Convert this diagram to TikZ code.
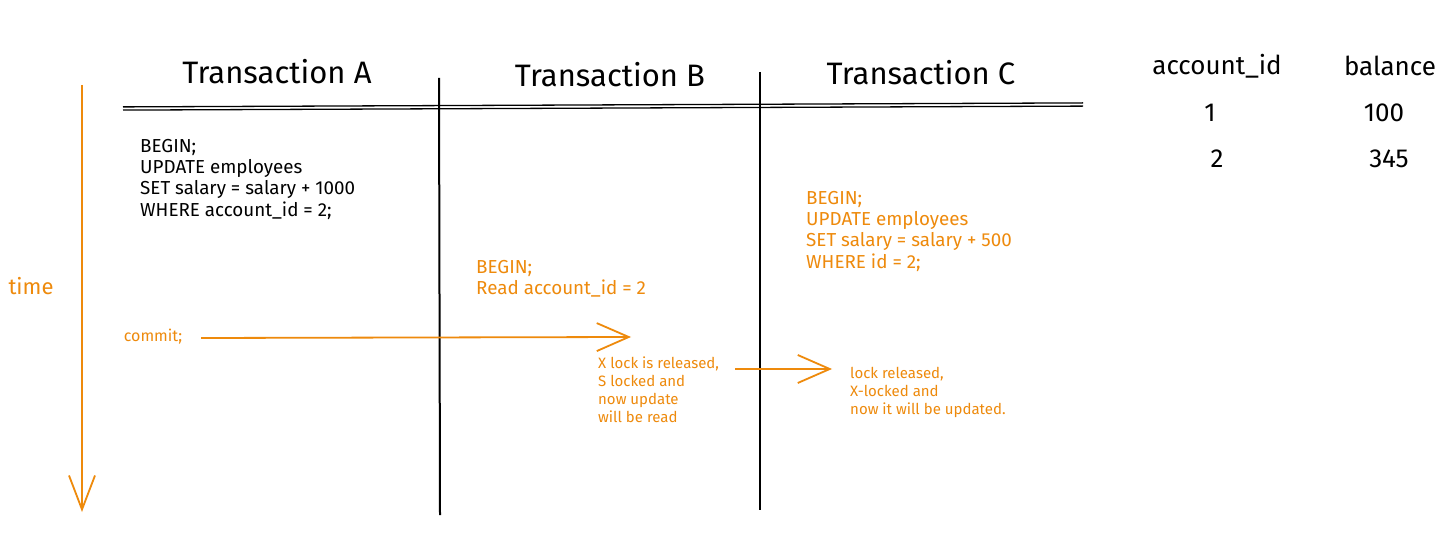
\documentclass[tikz,border=0pt]{standalone}
\usepackage{fontspec}
\setmainfont{Fira Sans}
\usetikzlibrary{arrows.meta}
\definecolor{xorange}{HTML}{EE8A0C}
\tikzset{
  hdr/.style={inner sep=0, font=\fontsize{31}{35}\selectfont},
  tbl/.style={inner sep=0, font=\fontsize{26}{30}\selectfont},
  code/.style={inner sep=0, anchor=north west, align=left, font=\fontsize{18.8}{21.3}\selectfont},
  small/.style={inner sep=0, anchor=north west, align=left, text=xorange, font=\fontsize{15}{17.8}\selectfont},
  lane/.style={line width=2pt, black},
  flow/.style={xorange, line width=1.8pt, -{Straight Barb[length=32pt, width=28pt, line width=1.8pt]}},
}
\begin{document}
\begin{tikzpicture}[x=1pt,y=-1pt]
\useasboundingbox[fill=white] (0,0) rectangle (1456,553);
% headers
\node[hdr] (ta) at (277,72) {Transaction A};
\node[hdr] (tb) at (610,75) {Transaction B};
\node[hdr] (tc) at (921,73) {Transaction C};
% table
\node[tbl] (hid) at (1217,66) {account\_id};
\node[tbl] (hbal) at (1390,66) {balance};
\node[tbl] (r1a) at (1210,113) {1};
\node[tbl] (r1b) at (1384,113) {100};
\node[tbl] (r2a) at (1217,159) {2};
\node[tbl] (r2b) at (1389,159) {345};
% grid lines
\coordinate (hl) at (123,108.5);
\coordinate (hr) at (1083,104.5);
\draw[line width=1.3pt] ([yshift=-1.6pt]hl) -- ([yshift=-1.6pt]hr);
\draw[line width=1.3pt] ([yshift=1.6pt]hl) -- ([yshift=1.6pt]hr);
\coordinate (v1t) at (439,78);
\coordinate (v1b) at (440,515);
\coordinate (v2t) at (760,72);
\coordinate (v2b) at (760,510);
\draw[lane] (v1t) -- (v1b);
\draw[lane] (v2t) -- (v2b);
% time axis
\node[inner sep=0, text=xorange, font=\fontsize{22}{26}\selectfont] (time) at (31,286) {time};
\coordinate (tt) at (82,85);
\coordinate (tbm) at (82,512);
\draw[xorange, line width=1.8pt, -{Straight Barb[length=34pt, width=26pt, line width=1.8pt]}] (tt) -- (tbm);
% code blocks
\node[code] (codeA) at (140,139) {BEGIN;\\UPDATE employees\\SET salary = salary + 1000\\WHERE account\_id = 2;};
\node[code, text=xorange] (codeB) at (476,260) {BEGIN;\\Read account\_id = 2};
\node[code, text=xorange] (codeC) at (806,191) {BEGIN;\\UPDATE employees\\SET salary = salary + 500\\WHERE id = 2;};
% commit
\node[inner sep=0, text=xorange, font=\fontsize{16}{19}\selectfont] (commit) at (153,337) {commit;};
\coordinate (c1s) at (201,338);
\coordinate (c1e) at (631,337);
\draw[flow] (c1s) -- (c1e);
\node[small] (noteB) at (598,357) {X lock is released,\\S locked and\\now update\\will be read};
\coordinate (c2s) at (735,369);
\coordinate (c2e) at (832,369);
\draw[flow] (c2s) -- (c2e);
\node[small] (noteC) at (850,367) {lock released,\\X-locked and\\now it will be updated.};
\end{tikzpicture}
\end{document}
